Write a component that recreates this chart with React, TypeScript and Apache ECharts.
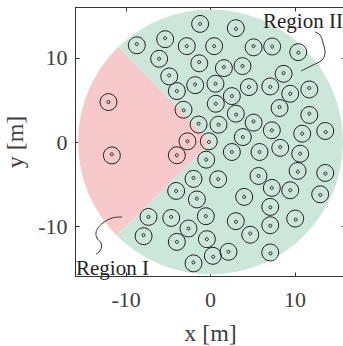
import React, { useEffect, useRef } from "react";
import * as echarts from "echarts";

// Node positions [m]
const nodeX = [
  -1.23, 3.0, -8.74, -5.38, -2.81, 0.43, 5.1, 7.31, 10.4, -6.09, -1.34, 1.58,
  3.79, 8.66, -4.9, -1.82, 0.59, -3.99, 4.55, 7.08, 9.45, 11.7, 2.53, -12.09,
  0.63, 8.18, -3.2, 3.0, 11.7, 5.1, -1.42, 0.95, 7.27, 13.6, 10.87, 3.83,
  -2.73, -0.2, -11.7, -3.99, 2.53, 5.81, 8.26, 10.63, -0.51, -2.02, 0.91, 5.69,
  10.32, 13.6, 7.27, -4.07, 9.45, -1.62, 3.99, 13.0, 7.08, -7.35, -4.66, -0.55,
  3.0, 10.04, -7.94, -2.61, 7.08, 4.7, -3.99, -0.43, 2.13, 0.28, -2.02, 7.08,
];
const nodeY = [
  14.05, 13.54, 11.64, 12.35, 11.4, 11.4, 11.4, 11.36, 10.69, 9.9, 9.5, 8.91,
  9.03, 8.19, 7.92, 6.85, 6.93, 6.06, 6.53, 6.61, 5.74, 6.41, 5.46, 4.75,
  4.55, 4.16, 3.84, 3.37, 3.37, 2.45, 2.18, 2.06, 1.39, 1.31, 0.99, 0.59,
  0.08, 0.08, -1.46, -1.58, -1.19, -1.19, -0.59, -1.39, -2.1, -4.28, -4.43, -4.04,
  -3.44, -3.68, -5.46, -5.82, -5.74, -6.73, -6.53, -6.22, -7.72, -8.91, -8.91, -8.83,
  -9.42, -9.11, -11.08, -10.29, -9.9, -10.89, -11.88, -11.56, -13.06, -13.54, -14.33, -13.14,
];

// Coverage regions: angular span [deg, counter-clockwise from +x]
const regionNames = ["Region I", "Region II"];
const regionStartDeg = [134, -135];
const regionEndDeg = [225, 134];
const regionRadius = 15.7;

const tickValues = [-10, 0, 10];
const axisMin = -16;
const axisMax = 16;

const outerRadius = 1.0;
const innerRadius = 0.18;

const regionColors = ["#f8c9cb", "#cde6da"];
const inkColor = "#1e1e1e";
const textColor = "#404040";
const serif = "'Liberation Serif', 'Times New Roman', serif";

export default function App() {
  const ref = useRef<HTMLDivElement>(null);

  useEffect(() => {
    if (!ref.current) return;
    const chart = echarts.init(ref.current, undefined, { renderer: "svg" });

    const axisLineStyle = { color: "#333", width: 1 };
    const labelStyle = {
      color: textColor,
      fontFamily: serif,
      fontSize: 22,
    };

    const regionData = regionStartDeg.map((s, i) => ({
      name: regionNames[i],
      value: [s, regionEndDeg[i]],
    }));
    const nodeData = nodeX.map((x, i) => [x, nodeY[i]]);

    // pixel length of a data distance along x
    const pxLen = (api: any, d: number) => api.coord([d, 0])[0] - api.coord([0, 0])[0];

    chart.setOption({
      animation: false,
      grid: {
        left: 75.5,
        top: 7.5,
        right: -2.5,
        bottom: 69.5,
        containLabel: false,
        outerBoundsMode: "none",
      },
      xAxis: [
        {
          type: "value",
          min: axisMin,
          max: axisMax,
          position: "bottom",
          axisLine: { show: true, onZero: false, lineStyle: axisLineStyle },
          axisTick: { show: true, inside: true, length: 4, customValues: tickValues, lineStyle: axisLineStyle },
          axisLabel: { customValues: tickValues, margin: 12, ...labelStyle },
          splitLine: { show: false },
          name: "x [m]",
          nameLocation: "middle",
          nameGap: 44,
          nameTextStyle: { ...labelStyle, fontSize: 24 },
        },
        {
          type: "value",
          min: axisMin,
          max: axisMax,
          position: "top",
          axisLine: { show: true, onZero: false, lineStyle: axisLineStyle },
          axisTick: { show: true, inside: true, length: 4, customValues: tickValues, lineStyle: axisLineStyle },
          axisLabel: { show: false },
          splitLine: { show: false },
        },
      ],
      yAxis: [
        {
          type: "value",
          min: axisMin,
          max: axisMax,
          position: "left",
          axisLine: { show: true, onZero: false, lineStyle: axisLineStyle },
          axisTick: { show: true, inside: true, length: 4, customValues: tickValues, lineStyle: axisLineStyle },
          axisLabel: { customValues: tickValues, margin: 8, ...labelStyle },
          splitLine: { show: false },
          name: "y [m]",
          nameLocation: "middle",
          nameGap: 44,
          nameRotate: 90,
          nameTextStyle: { ...labelStyle, fontSize: 24 },
        },
        {
          type: "value",
          min: axisMin,
          max: axisMax,
          position: "right",
          axisLine: { show: true, onZero: false, lineStyle: axisLineStyle },
          axisTick: { show: true, inside: true, length: 4, customValues: tickValues, lineStyle: axisLineStyle },
          axisLabel: { show: false },
          splitLine: { show: false },
        },
      ],
      series: [
        {
          type: "custom",
          name: "regions",
          xAxisIndex: 0,
          yAxisIndex: 0,
          silent: true,
          clip: false,
          encode: { x: -1, y: -1 },
          data: regionData,
          renderItem: (params: any, api: any) => {
            const c = api.coord([0, 0]);
            const r = pxLen(api, regionRadius);
            const a1 = (api.value(0) * Math.PI) / 180;
            const a2 = (api.value(1) * Math.PI) / 180;
            return {
              type: "sector",
              shape: { cx: c[0], cy: c[1], r, r0: 0, startAngle: -a2, endAngle: -a1, clockwise: true },
              style: { fill: regionColors[params.dataIndex], stroke: "none" },
            };
          },
          z: 1,
        },
        {
          type: "custom",
          name: "nodes",
          xAxisIndex: 0,
          yAxisIndex: 0,
          silent: true,
          data: nodeData,
          renderItem: (_params: any, api: any) => {
            const p = api.coord([api.value(0), api.value(1)]);
            return {
              type: "group",
              children: [
                {
                  type: "circle",
                  shape: { cx: p[0], cy: p[1], r: pxLen(api, outerRadius) },
                  style: { fill: "none", stroke: inkColor, lineWidth: 1 },
                },
                {
                  type: "circle",
                  shape: { cx: p[0], cy: p[1], r: pxLen(api, innerRadius) },
                  style: { fill: "none", stroke: inkColor, lineWidth: 1 },
                },
              ],
            };
          },
          z: 2,
        },
      ],
      graphic: [
        {
          type: "text",
          left: 263,
          top: 10,
          style: { text: regionNames[1], fill: "#262626", fontFamily: serif, fontSize: 21 },
          z: 10,
        },
        {
          type: "text",
          left: 76,
          top: 257,
          style: { text: regionNames[0], fill: "#262626", fontFamily: serif, fontSize: 21 },
          z: 10,
        },
        {
          type: "polyline",
          shape: {
            points: [[315, 32], [320, 35], [323, 43], [325, 53], [322, 60], [313, 65], [301, 71]],
            smooth: 0.4,
          },
          style: { stroke: "#333", lineWidth: 1, fill: "none" },
          z: 10,
        },
        {
          type: "polyline",
          shape: {
            points: [[122, 217], [112, 218], [103, 223], [98, 228], [96, 233], [97, 238], [101, 243], [101.5, 247], [99, 252], [96, 254]],
            smooth: 0.4,
          },
          style: { stroke: "#333", lineWidth: 1, fill: "none" },
          z: 10,
        },
      ],
    });

    return () => chart.dispose();
  }, []);

  return (
    <div
      ref={ref}
      style={{ position: "fixed", left: 0, top: 0, width: 343, height: 346, background: "#fff" }}
    />
  );
}
